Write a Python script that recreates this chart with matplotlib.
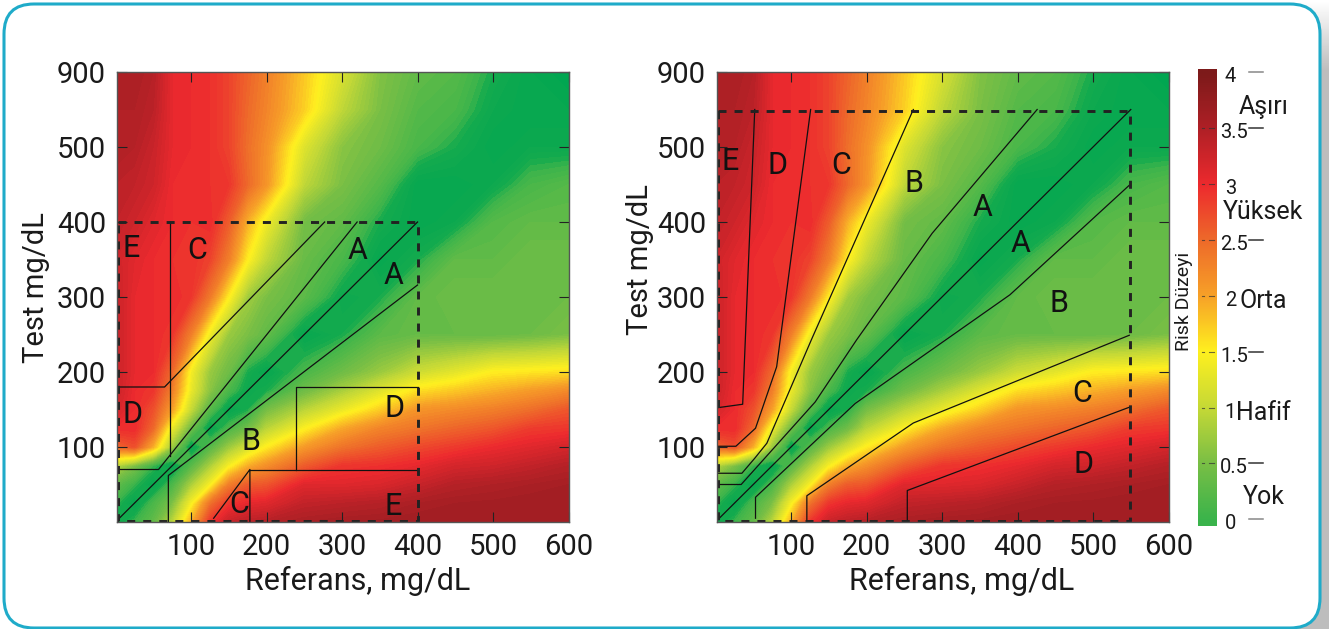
import numpy as np
import matplotlib
matplotlib.use("Agg")
import matplotlib.pyplot as plt
from matplotlib.colors import LinearSegmentedColormap
from matplotlib.patches import FancyBboxPatch

plt.rcParams['font.family'] = ['Roboto', 'DejaVu Sans']

# grid of risk values (shared by both panels)
grid_x = [0, 25, 50, 75, 100, 125, 150, 175, 200, 250, 300, 350, 400, 450, 500, 550, 600]
grid_y = [0, 25, 50, 75, 100, 125, 150, 175, 200, 250, 300, 350, 400, 450, 500, 550, 600]
risk = [
    [-.2, .0, .3, .9, 1.9, 2.9, 3.3, 3.4, 3.45, 3.55, 3.6, 3.62, 3.65, 3.65, 3.65, 3.65, 3.65],
    [.0, -.3, .1, .5, 1.4, 2.4, 2.9, 3.05, 3.1, 3.35, 3.4, 3.45, 3.55, 3.6, 3.62, 3.65, 3.65],
    [.3, .0, -.3, .1, .8, 1.4, 2.3, 2.6, 2.65, 3.1, 3.1, 3.15, 3.3, 3.45, 3.5, 3.55, 3.6],
    [.9, .5, .0, -.3, .2, .8, 1.4, 1.9, 2.15, 2.6, 2.9, 2.95, 3.05, 3.2, 3.25, 3.35, 3.45],
    [2.5, 2.7, 1.9, .7, -.3, .2, .7, 1.1, 1.5, 2.05, 2.4, 2.6, 2.75, 2.87, 3.0, 3.1, 3.2],
    [3.0, 3.0, 2.5, 1.3, .4, -.3, .1, .4, .9, 1.45, 1.95, 2.25, 2.4, 2.53, 2.65, 2.85, 2.9],
    [3.2, 3.0, 2.7, 2.0, 1.0, .2, -.3, -.1, .45, .9, 1.3, 1.7, 2.1, 2.2, 2.3, 2.45, 2.65],
    [3.3, 3.0, 2.9, 2.3, 1.3, .6, .1, -.2, -.1, .4, .8, 1.2, 1.6, 1.75, 1.9, 2.05, 2.2],
    [3.3, 3.05, 3.0, 2.5, 1.4, .7, .4, -.1, -.3, .1, .4, .7, 1.05, 1.25, 1.5, 1.55, 1.6],
    [3.3, 3.05, 3.0, 2.9, 2.3, 1.35, .7, .5, .3, -.3, -.1, .25, .35, .35, .35, .4, .5],
    [3.3, 3.05, 3.0, 3.0, 2.9, 2.35, 1.5, .75, .5, .25, -.2, -.1, .3, .4, .4, .4, .4],
    [3.25, 3.1, 3.0, 2.95, 2.95, 2.8, 2.3, 1.5, .95, .35, .1, -.3, -.1, .3, .3, .4, .4],
    [3.35, 3.25, 3.1, 3.0, 2.95, 3.0, 2.6, 1.9, 1.35, .45, .3, -.1, -.3, -.2, .2, .3, .3],
    [3.4, 3.35, 3.25, 3.0, 3.0, 2.95, 2.9, 2.5, 2.1, .95, .5, .2, -.3, -.3, -.2, .1, .2],
    [3.5, 3.45, 3.3, 3.05, 3.0, 2.95, 2.8, 2.45, 2.15, 1.2, .6, .4, .1, -.1, -.3, -.2, -.2],
    [3.5, 3.5, 3.4, 3.05, 3.0, 2.95, 2.8, 2.5, 2.25, 1.7, .95, .5, .2, .1, -.2, -.3, -.3],
    [3.55, 3.55, 3.45, 3.05, 3.0, 2.95, 2.8, 2.55, 2.3, 1.75, 1.15, .55, .3, .2, -.1, -.3, -.4],
]

x_ticks = [100, 200, 300, 400, 500, 600]
y_ticks = [100, 200, 300, 400, 500, 600]
y_tick_labels = ['100', '200', '300', '400', '500', '900']

# zone boundaries, left panel (Clarke grid)
left_limit = 400
left_lines = [
    ([0, 65, 277], [180, 180, 400]),
    ([72, 72], [400, 88]),
    ([0, 57, 320], [70, 70, 400]),
    ([0, 400], [0, 400]),
    ([70, 70, 400], [0, 62, 316]),
    ([130, 178, 178], [5, 70, 0]),
    ([178, 400], [70, 70]),
    ([239, 239, 400], [70, 180, 180]),
]
left_letters = ['E', 'C', 'A', 'A', 'D', 'D', 'B', 'C', 'E']
left_letter_x = [21, 108, 320, 368, 23, 370, 180, 164, 368]
left_letter_y = [365, 362, 362, 329, 143, 151, 108, 23, 21]

# zone boundaries, right panel (consensus grid)
right_limit = 548.5
right_lines = [
    ([0, 36, 52], [152, 157, 550]),
    ([0, 27, 53, 81, 126], [101, 101, 125, 207, 550]),
    ([0, 35, 52, 68, 127, 262], [65, 65, 85, 105, 243, 550]),
    ([0, 34, 132, 187, 287, 426], [50, 50, 160, 243, 385, 550]),
    ([0, 550], [0, 550]),
    ([53, 53, 185, 390, 548], [5, 33, 158, 303, 449]),
    ([121, 121, 262, 548], [0, 35, 132, 249]),
    ([254, 254, 548], [0, 42, 153]),
]
right_letters = ['E', 'D', 'C', 'B', 'A', 'A', 'B', 'C', 'D']
right_letter_x = [20, 82, 166, 263, 354, 404, 455, 485, 488]
right_letter_y = [480, 476, 476, 452, 420, 372, 292, 171, 77]

risk_ticks = [0, .5, 1, 1.5, 2, 2.5, 3, 3.5, 4]
risk_tick_labels = ['0', '0.5', '1', '1.5', '2', '2.5', '3', '3.5', '4']
risk_names = ['Yok', 'Hafif', 'Orta', 'Yüksek', 'Aşırı']
risk_name_pos = [.2, .95, 1.95, 2.75, 3.69]

teal = '#1fabc9'
ink = '#1a1a1a'

# colours by risk value, the part under 0 is the deep green of the maps only
vmin, vmax = -0.4, 4
nodes = [(-0.4, '#00a651'), (-0.1, '#14aa4e'), (0, '#3cb44b'), (0.5, '#7abf45'), (1, '#c6d936'),
         (1.5, '#fff01f'), (2, '#f7a128'), (2.5, '#ee6a2a'), (3, '#ed2a2e'),
         (3.5, '#b02026'), (4, '#7d1a1a')]
cmap = LinearSegmentedColormap.from_list(
    'risk', [((v - vmin) / (vmax - vmin), c) for v, c in nodes], N=512)

W, H = 1329, 629
fig = plt.figure(figsize=(W / 100, H / 100), dpi=100)


def px_axes(left, top, right, bottom):
    return fig.add_axes([left / W, 1 - bottom / H, (right - left) / W, (bottom - top) / H])


# card behind everything, pixel coordinates
bg = fig.add_axes([0, 0, 1, 1])
bg.set_xlim(0, W)
bg.set_ylim(H, 0)
bg.axis('off')
shade = np.array([[np.interp(y, [0, 70, 629], [1, .74, .74])] for y in range(H)])
bg.imshow(shade, cmap='gray', vmin=0, vmax=1, extent=[1280, W, H, 0], aspect='auto')
bg.set_xlim(0, W)
bg.set_ylim(H, 0)
card = FancyBboxPatch((34, 34), 1256, 564, boxstyle='round,pad=30,rounding_size=30',
                      fc='white', ec=teal, lw=2.2)
bg.add_patch(card)


def draw_panel(ax, limit, lines, letters, letter_x, letter_y, xlabel_pos, ylabel_pos):
    ax.contourf(grid_x, grid_y, risk, levels=np.linspace(vmin, vmax, 89), cmap=cmap,
                vmin=vmin, vmax=vmax, extend='both')
    for xs, ys in lines:
        ax.plot(xs, ys, color='#111111', lw=0.9)
    ax.plot([3, limit, limit, 3, 3], [limit, limit, 0.8, 0.8, limit], color='#222222',
            lw=2.1, dashes=(2.75, 2.75), clip_on=False)
    for s, x, y in zip(letters, letter_x, letter_y):
        ax.text(x, y, s, fontsize=22, color='#111111', ha='center', va='center')
    ax.set_xlim(2, 600.6)
    ax.set_ylim(0, 600)
    ax.set_xticks(x_ticks)
    ax.set_yticks(y_ticks)
    ax.set_yticklabels(y_tick_labels)
    ax.tick_params(direction='in', top=True, right=True, length=7, width=0.8,
                   labelsize=21, color='#222222', labelcolor=ink, pad=8)
    ax.set_xlabel('Referans, mg/dL', fontsize=22, color=ink)
    ax.set_ylabel('Test mg/dL', fontsize=21, color=ink)
    ax.xaxis.set_label_coords(*xlabel_pos)
    ax.yaxis.set_label_coords(*ylabel_pos)
    for sp in ax.spines.values():
        sp.set_color('#555555')
        sp.set_linewidth(1.0)


ax1 = px_axes(117, 72, 569, 522)
ax2 = px_axes(717, 72, 1169, 522)
draw_panel(ax1, left_limit, left_lines, left_letters, left_letter_x, left_letter_y,
           (.533, -.098), (-.148, .522))
draw_panel(ax2, right_limit, right_lines, right_letters, right_letter_x, right_letter_y,
           (.542, -.098), (-.14, .584))

# colour bar
cax = px_axes(1198, 69, 1217, 526)
lo, hi = -0.06, 4.03
bar_values = np.linspace(hi, lo, 256).reshape(-1, 1)
cax.imshow(np.clip(bar_values, 0, None), cmap=cmap, vmin=vmin, vmax=vmax, aspect='auto',
           extent=[0, 1, lo, hi])
cax.set_xticks([])
cax.set_yticks([])
for sp in cax.spines.values():
    sp.set_visible(False)
for v in risk_ticks[1:-1]:
    cax.plot([.19, .3], [v, v], color='#333333', lw=0.8, alpha=.7)
    cax.plot([.58, .84], [v, v], color='#333333', lw=0.8, alpha=.7)
cax.set_xlim(0, 1)
cax.set_ylim(lo, hi)

# labels right of the bar, placed in the bar's value scale
trans = cax.get_yaxis_transform()
for v, s in zip(risk_ticks, risk_tick_labels):
    cax.text(1.7 if len(s) == 1 else 1.9, v - .04, s, transform=trans, ha='center', va='center',
             fontsize=14.5, color=ink, clip_on=False)
for v in [0, .5, 1.5, 2.5, 3.5, 4]:
    col = '#888888' if v in (0, 4) else '#333333'
    cax.plot([2.68, 3.42], [v, v], color=col, lw=1.1, clip_on=False)
for v, s in zip(risk_name_pos, risk_names):
    cax.text(3.45, v, s, transform=trans, ha='center', va='center', fontsize=18, color=ink,
             clip_on=False)
fig.text(1184 / W, 1 - 301 / H, 'Risk Düzeyi', rotation=90, fontsize=14, color=ink,
         ha='center', va='center')

fig.savefig('out.png', dpi=100)
